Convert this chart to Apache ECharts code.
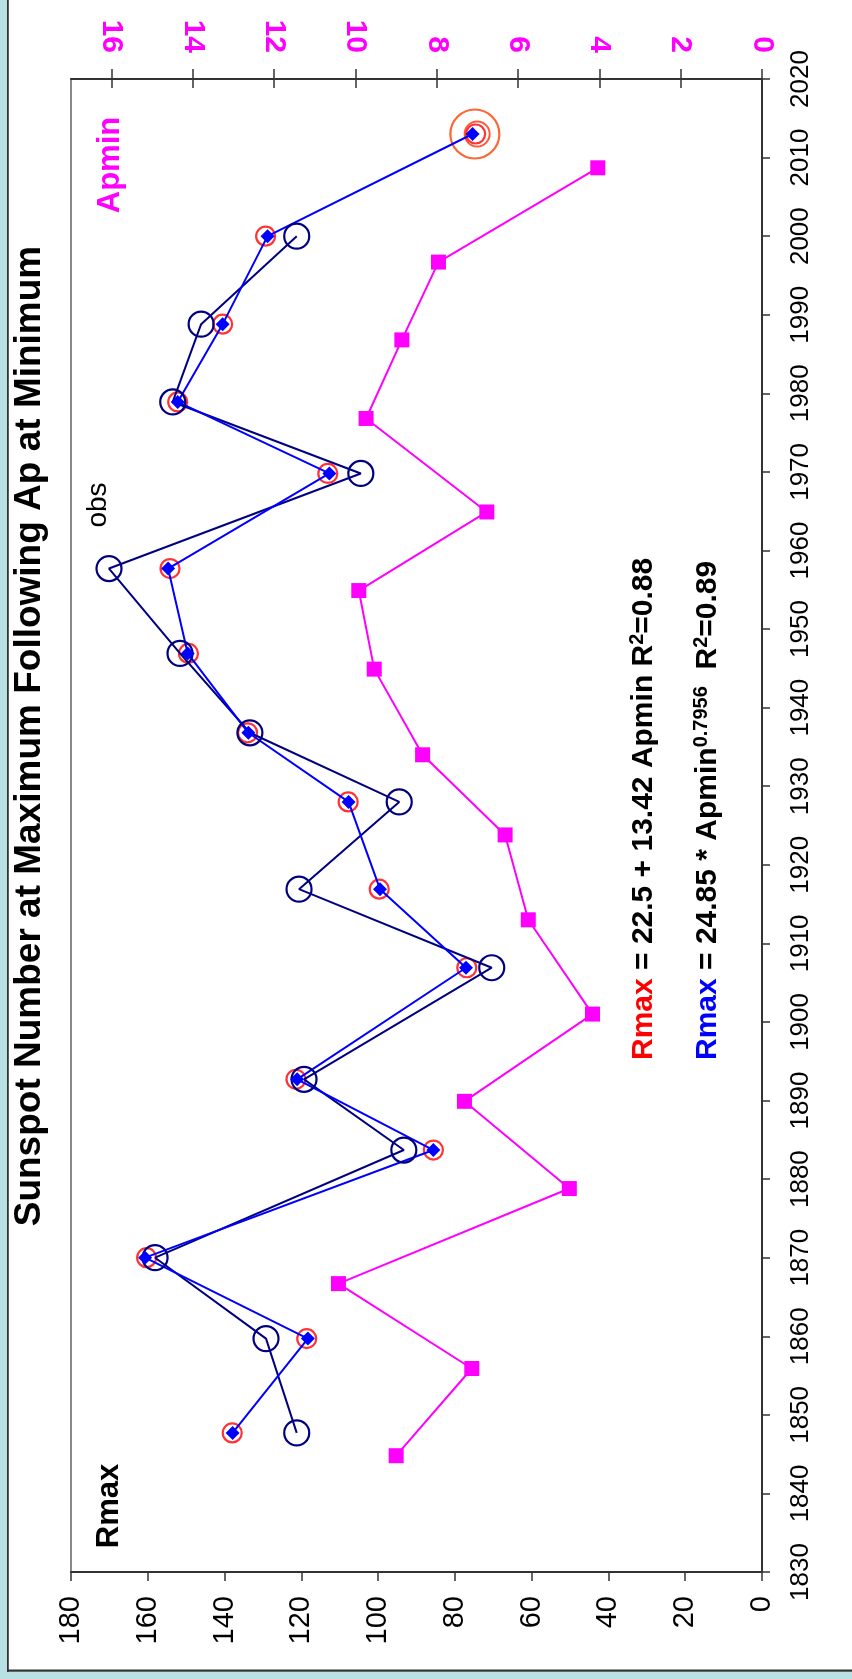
<!DOCTYPE html>
<html>
<head>
<meta charset="utf-8">
<script src="https://cdn.jsdelivr.net/npm/echarts@6/dist/echarts.min.js"></script>
<style>
html,body{margin:0;padding:0;background:#fff;}
#chart{width:852px;height:1679px;}
</style>
</head>
<body>
<div id="chart"></div>
<script>
// ---- data ----
const apYears = [1844.8, 1855.9, 1866.7, 1878.8, 1889.9, 1901.0, 1913.0, 1923.8, 1934.0, 1944.9, 1954.9, 1964.9, 1976.8, 1986.8, 1996.7, 2008.7];
const apmin   = [9.0, 7.14, 10.42, 4.74, 7.32, 4.17, 5.75, 6.32, 8.35, 9.54, 9.92, 6.77, 9.74, 8.86, 7.96, 4.04];

const maxYears = [1847.7, 1859.7, 1870.0, 1883.7, 1892.7, 1906.9, 1916.9, 1928.0, 1936.8, 1946.9, 1957.7, 1969.8, 1978.9, 1988.8, 2000.0];
const rmaxObs  = [121.2, 129.2, 158.1, 93.3, 119.3, 70.4, 120.6, 94.5, 133.4, 151.6, 170.1, 104.5, 153.5, 146.1, 121.2];

const fitYears   = [1847.7, 1859.7, 1870.0, 1883.7, 1892.7, 1906.9, 1916.9, 1928.0, 1936.8, 1946.9, 1957.7, 1969.8, 1978.9, 1988.8, 2000.0, 2013.0];
const rmaxPower  = [137.9, 118.3, 160.7, 85.6, 121.1, 77.1, 99.5, 107.7, 133.8, 149.6, 154.7, 112.7, 152.2, 140.5, 128.8, 75.4];
const rmaxLinear = [138.0, 118.6, 160.3, 85.6, 121.4, 76.9, 99.7, 107.8, 134.0, 149.4, 154.2, 113.1, 152.2, 140.5, 129.3, 74.6];

const predYear = 2013.0;
const predBig  = 74.8;
const predRing = 74.2;

const apminTicks = [0, 2, 4, 6, 8, 10, 12, 14, 16];
const rmaxTicks  = [0, 20, 40, 60, 80, 100, 120, 140, 160, 180];
const yearTicks  = [1830, 1840, 1850, 1860, 1870, 1880, 1890, 1900, 1910, 1920, 1930, 1940, 1950, 1960, 1970, 1980, 1990, 2000, 2010, 2020];

const titleText = 'Sunspot Number at Maximum Following Ap at Minimum';

// ---- chart ----
const FF = '"Liberation Sans", Arial, sans-serif';
const pair = (xs, ys) => xs.map((v, i) => [v, ys[i]]);

const chart = echarts.init(document.getElementById('chart'), null, {renderer: 'canvas'});

const supRich = (mainColorKey, mainColor) => {
  const r = {
    k: {fill: '#000', fontSize: 30, fontWeight: 'bold', fontFamily: FF, lineHeight: 32, verticalAlign: 'bottom'},
    s: {fill: '#000', fontSize: 20, fontWeight: 'bold', fontFamily: FF, lineHeight: 23, verticalAlign: 'top'}
  };
  r[mainColorKey] = {fill: mainColor, fontSize: 30, fontWeight: 'bold', fontFamily: FF, lineHeight: 32, verticalAlign: 'bottom'};
  return r;
};

const option = {
  animation: false,
  backgroundColor: '#ffffff',
  grid: {left: 71, right: 90, top: 79, bottom: 107, show: true, borderColor: '#8a8a8a', borderWidth: 2, backgroundColor: '#ffffff'},
  xAxis: [
    {
      type: 'value', position: 'bottom', inverse: true,
      min: rmaxTicks[0], max: rmaxTicks[rmaxTicks.length - 1], interval: 20,
      axisLine: {show: true, onZero: false, lineStyle: {color: '#333', width: 2}},
      axisTick: {show: true, inside: false, length: 9, lineStyle: {color: '#333', width: 1.5}},
      axisLabel: {show: true, rotate: 90, margin: 24, fontSize: 29, color: '#000', fontFamily: FF},
      splitLine: {show: false}
    },
    {
      type: 'value', position: 'top', inverse: true, min: 0, max: 17,
      axisLine: {show: true, onZero: false, lineStyle: {color: '#333', width: 2}},
      axisTick: {show: true, inside: false, length: 10, customValues: apminTicks, lineStyle: {color: '#333', width: 1.5}},
      axisLabel: {show: true, rotate: 90, margin: 26, fontSize: 30, fontWeight: 'bold', color: '#ff00ff', fontFamily: FF, customValues: apminTicks},
      splitLine: {show: false}
    },
    {
      type: 'value', position: 'top', inverse: true, min: 0, max: 17,
      axisLine: {show: false, onZero: false},
      axisTick: {show: true, inside: true, length: 9, customValues: apminTicks, lineStyle: {color: '#333', width: 1.5}},
      axisLabel: {show: false},
      splitLine: {show: false}
    }
  ],
  yAxis: [
    {
      type: 'value', position: 'right',
      min: yearTicks[0], max: yearTicks[yearTicks.length - 1], interval: 10,
      axisLine: {show: true, onZero: false, lineStyle: {color: '#333', width: 2}},
      axisTick: {show: true, inside: false, length: 8, lineStyle: {color: '#333', width: 1.5}},
      axisLabel: {show: true, rotate: 90, margin: 26, fontSize: 26, color: '#000', fontFamily: FF, formatter: (v) => String(v)},
      splitLine: {show: false}
    }
  ],
  series: [
    {
      name: 'Apmin', type: 'line', xAxisIndex: 1, yAxisIndex: 0,
      data: pair(apmin, apYears),
      symbol: 'rect', symbolSize: 15,
      itemStyle: {color: '#ff00ff'},
      lineStyle: {color: '#ff00ff', width: 2}
    },
    {
      name: 'obs', type: 'line', xAxisIndex: 0, yAxisIndex: 0,
      data: pair(rmaxObs, maxYears),
      symbol: 'circle', symbolSize: 25,
      itemStyle: {color: 'rgba(0,0,0,0)', borderColor: '#000080', borderWidth: 2.2},
      lineStyle: {color: '#000080', width: 2}
    },
    {
      name: 'power', type: 'line', xAxisIndex: 0, yAxisIndex: 0,
      data: pair(rmaxPower, fitYears),
      symbol: 'diamond', symbolSize: 14,
      itemStyle: {color: '#0000ff'},
      lineStyle: {color: '#0000ff', width: 2}
    },
    {
      name: 'linear', type: 'scatter', xAxisIndex: 0, yAxisIndex: 0,
      data: pair(rmaxLinear, fitYears),
      symbol: 'circle', symbolSize: 19,
      itemStyle: {color: 'rgba(0,0,0,0)', borderColor: '#ff0000', borderWidth: 2.2}
    },
    {
      name: 'prediction', type: 'scatter', xAxisIndex: 0, yAxisIndex: 0,
      data: [
        {value: [predBig, predYear], symbolSize: 49, itemStyle: {color: 'rgba(0,0,0,0)', borderColor: '#ff4000', borderWidth: 2.2}},
        {value: [predRing, predYear], symbolSize: 25, itemStyle: {color: 'rgba(0,0,0,0)', borderColor: '#ff3000', borderWidth: 2}}
      ],
      symbol: 'circle'
    }
  ],
  graphic: [
    {type: 'rect', shape: {x: 0, y: 0, width: 7, height: 1679}, style: {fill: '#b9e0e3'}, silent: true},
    {type: 'rect', shape: {x: 0, y: 1672, width: 852, height: 7}, style: {fill: '#b9e0e3'}, silent: true},
    {type: 'rect', shape: {x: 7, y: 0, width: 1.8, height: 1672}, style: {fill: '#333'}, silent: true},
    {type: 'rect', shape: {x: 7, y: 1669.5, width: 845, height: 2.2}, style: {fill: '#333'}, silent: true},
    {
      type: 'text', x: 30, y: 736, rotation: Math.PI / 2, silent: true,
      style: {text: titleText, font: 'bold 37px ' + FF, fill: '#000', align: 'center', verticalAlign: 'middle'}
    },
    {
      type: 'text', x: 109, y: 1506, rotation: Math.PI / 2, silent: true,
      style: {text: 'Rmax', font: 'bold 31px ' + FF, fill: '#000', align: 'center', verticalAlign: 'middle'}
    },
    {
      type: 'text', x: 110, y: 165, rotation: Math.PI / 2, silent: true,
      style: {text: 'Apmin', font: 'bold 31px ' + FF, fill: '#ff00ff', align: 'center', verticalAlign: 'middle'}
    },
    {
      type: 'text', x: 98, y: 505, rotation: Math.PI / 2, silent: true,
      style: {text: 'obs', font: '28px ' + FF, fill: '#000', align: 'center', verticalAlign: 'middle'}
    },
    {
      type: 'text', x: 643, y: 1060, rotation: Math.PI / 2, silent: true,
      style: {
        text: '{r|Rmax}{k| = 22.5 + 13.42 Apmin R}{s|2}{k|=0.88}',
        align: 'left', verticalAlign: 'middle',
        rich: supRich('r', '#ff0000')
      }
    },
    {
      type: 'text', x: 707, y: 1060, rotation: Math.PI / 2, silent: true,
      style: {
        text: '{b|Rmax}{k| = 24.85 * Apmin}{s|0.7956}{k|  R}{s|2}{k|=0.89}',
        align: 'left', verticalAlign: 'middle',
        rich: supRich('b', '#0000ff')
      }
    }
  ]
};

chart.setOption(option);
</script>
</body>
</html>
